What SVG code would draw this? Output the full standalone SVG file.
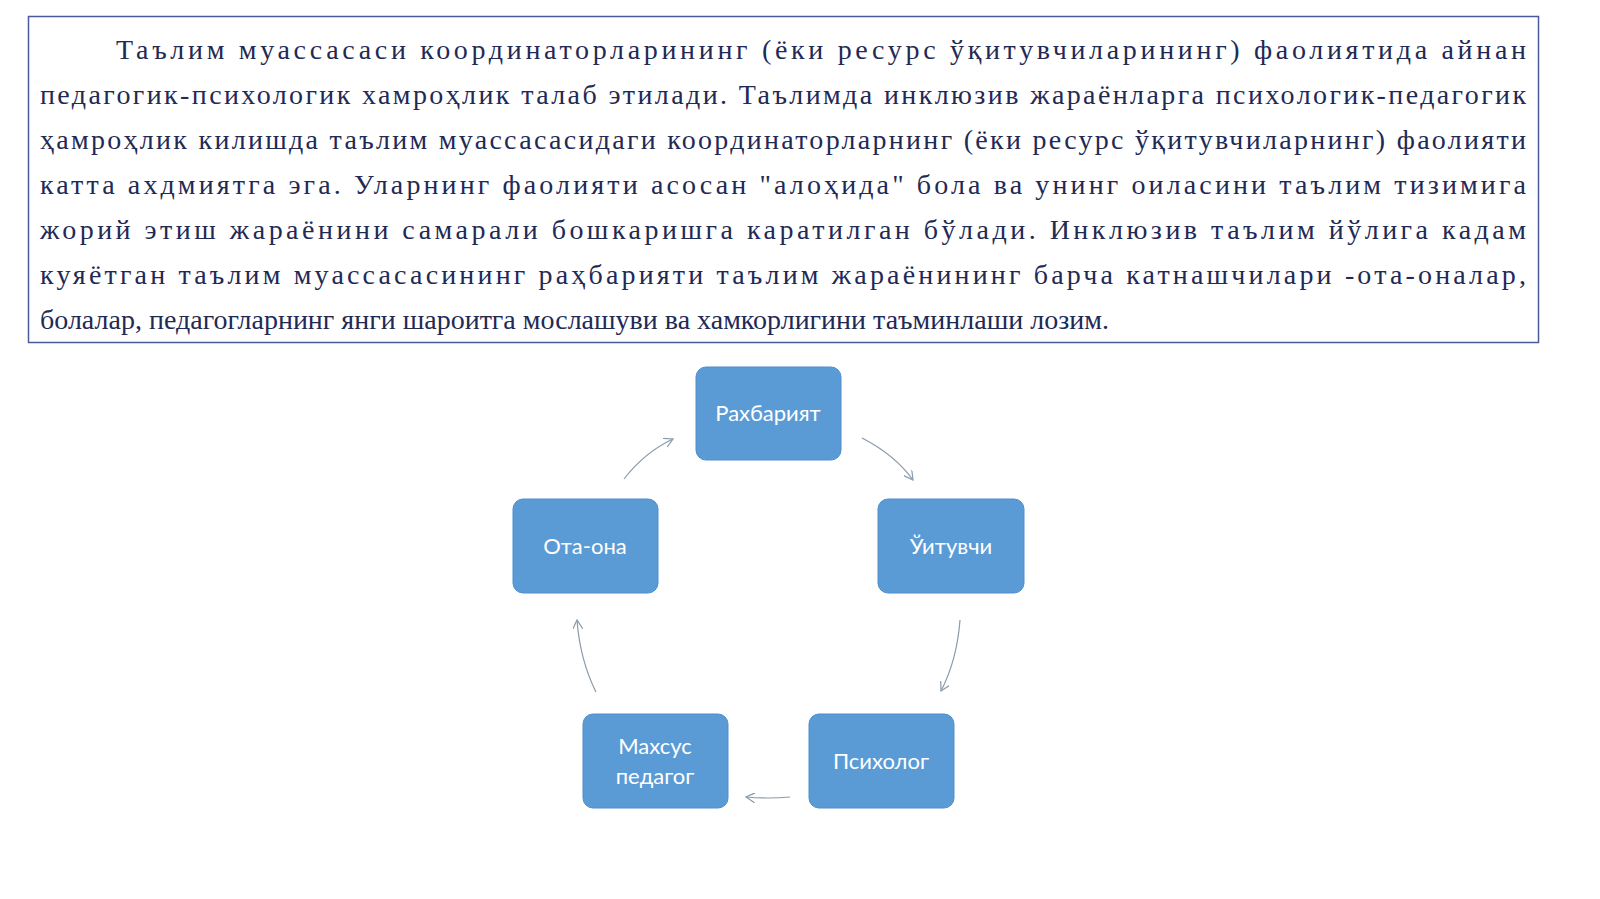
<svg xmlns="http://www.w3.org/2000/svg" width="1600" height="899" viewBox="0 0 1600 899">
<style>
.t{font-family:"Liberation Serif","Times New Roman",serif;font-size:28px;fill:#1f2a55}
.n rect{fill:#5b9bd5;stroke:#4f8fcc;stroke-width:1}
.n text{font-family:Lato,"Open Sans",sans-serif;font-size:22px;fill:#fff;text-anchor:middle}
.c path{fill:none;stroke:#8a9aab;stroke-width:1.2;marker-end:url(#a)}
</style>
<defs><marker id="a" viewBox="0 0 10 10" refX="9" refY="5" markerWidth="10" markerHeight="10" orient="auto" markerUnits="userSpaceOnUse"><path d="M0,0L9,5L0,10" fill="none" stroke="#8a9aab" stroke-width="1.2"/></marker></defs>
<rect width="1600" height="899" fill="#fff"/>
<rect x="28.500" y="16.500" width="1510" height="326" fill="none" stroke="#4a5a9a" stroke-width="1.500"/>
<g id="text">
<text class="t" x="116" y="59" textLength="1410" lengthAdjust="spacing">Таълим муассасаси координаторларининг (ёки ресурс ўқитувчиларининг) фаолиятида айнан</text>
<text class="t" x="40" y="104" textLength="1486" lengthAdjust="spacing">педагогик-психологик хамроҳлик талаб этилади. Таълимда инклюзив жараёнларга психологик-педагогик</text>
<text class="t" x="40" y="149" textLength="1486" lengthAdjust="spacing">ҳамроҳлик килишда таълим муассасасидаги координаторларнинг (ёки ресурс ўқитувчиларнинг) фаолияти</text>
<text class="t" x="40" y="194" textLength="1486" lengthAdjust="spacing">катта ахдмиятга эга. Уларнинг фаолияти асосан "алоҳида" бола ва унинг оиласини таълим тизимига</text>
<text class="t" x="40" y="239" textLength="1486" lengthAdjust="spacing">жорий этиш жараёнини самарали бошкаришга каратилган бўлади. Инклюзив таълим йўлига кадам</text>
<text class="t" x="40" y="284" textLength="1486" lengthAdjust="spacing">куяётган таълим муассасасининг раҳбарияти таълим жараёнининг барча катнашчилари -ота-оналар,</text>
<text class="t" x="40" y="329">болалар, педагогларнинг янги шароитга мослашуви ва хамкорлигини таъминлаши лозим.</text>
</g>
<g id="n1" class="n"><rect x="696" y="367" width="145" height="93" rx="10"/><text x="768" y="421">Рахбарият</text></g>
<g id="n2" class="n"><rect x="878" y="499" width="146" height="94" rx="10"/><text x="951" y="554">Ўитувчи</text></g>
<g id="n3" class="n"><rect x="809" y="714" width="145" height="94" rx="10"/><text x="881" y="769">Психолог</text></g>
<g id="n4" class="n"><rect x="583" y="714" width="145" height="94" rx="10"/><text x="655" y="754">Махсус</text><text x="655" y="784">педагог</text></g>
<g id="n5" class="n"><rect x="513" y="499" width="145" height="94" rx="10"/><text x="585" y="554">Ота-она</text></g>
<g id="connectors" class="c">
<path d="M862,438 Q895,455 913,480"/>
<path d="M960,620 Q957,660 941,691"/>
<path d="M790,797 Q768,799 746,797"/>
<path d="M596,692 Q580,660 577,620"/>
<path d="M624,479 Q645,452 673,439"/>
</g>
</svg>
